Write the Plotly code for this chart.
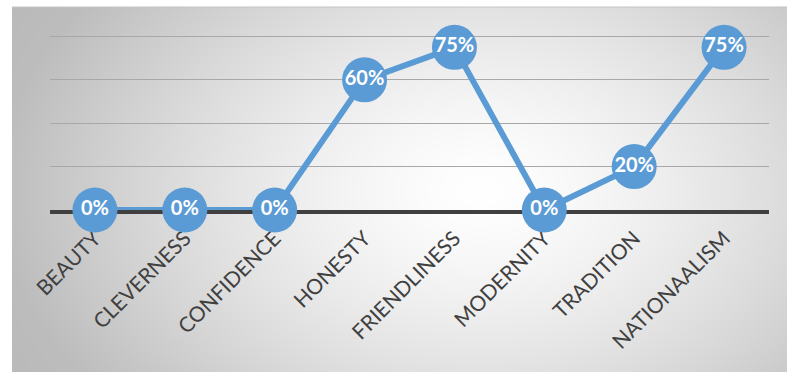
import base64
import struct
import zlib

import numpy as np
import plotly.graph_objects as go

# Survey traits and the share of respondents choosing each one (%)
traits = ["BEAUTY", "CLEVERNESS", "CONFIDENCE", "HONESTY",
          "FRIENDLINESS", "MODERNITY", "TRADITION", "NATIONAALISM"]
shares = [0, 0, 0, 60, 75, 0, 20, 75]
grid_ticks = [0, 20, 40, 60, 80]

W, H = 787, 372
BLUE = "#5B9BD5"


def gradient_png(w, h, cx, cy, rx, ry):
    """Radial white-to-grey gradient encoded as a PNG data URI."""
    yy, xx = np.mgrid[0:h, 0:w].astype(float)
    t = np.sqrt(((xx - cx) / rx) ** 2 + ((yy - cy) / ry) ** 2)
    v = 255 - 66 * np.clip(t, 0, 1) ** 1.4 - 25 * np.clip(t - 1, 0, None)
    img = np.repeat(v[:, :, None], 3, axis=2).astype(np.uint8)
    raw = b"".join(b"\x00" + row.tobytes() for row in img)

    def chunk(tag, data):
        c = struct.pack(">I", len(data)) + tag + data
        return c + struct.pack(">I", zlib.crc32(tag + data) & 0xFFFFFFFF)

    png = b"\x89PNG\r\n\x1a\n"
    png += chunk(b"IHDR", struct.pack(">IIBBBBB", w, h, 8, 2, 0, 0, 0))
    png += chunk(b"IDAT", zlib.compress(raw, 9))
    png += chunk(b"IEND", b"")
    return "data:image/png;base64," + base64.b64encode(png).decode()


# background panel geometry (pixels)
bx0, by0, bx1, by1 = 12, 7, 787, 372
bg = gradient_png(bx1 - bx0, by1 - by0, 480 - bx0, 190 - by0, 480, 330)

# plot area in pixels; the value axis runs a little past the top gridline
px0, px1 = 50, 769
py_zero = 210
px_per_unit = (210 - 36.5) / 80
y_max = 82
py_top = py_zero - y_max * px_per_unit

fig = go.Figure()
fig.add_trace(go.Scatter(
    x=traits,
    y=shares,
    mode="lines+markers+text",
    line=dict(color=BLUE, width=6),
    marker=dict(color=BLUE, size=45, line=dict(width=0)),
    text=[f"{v}%" for v in shares],
    textposition="middle center",
    textfont=dict(family="Lato", size=20, color="white", weight="bold"),
    cliponaxis=False,
    hoverinfo="skip",
))

fig.update_layout(
    width=W,
    height=H,
    margin=dict(l=0, r=0, t=0, b=0, autoexpand=False),
    paper_bgcolor="white",
    plot_bgcolor="rgba(0,0,0,0)",
    showlegend=False,
    images=[dict(
        source=bg, xref="paper", yref="paper",
        x=bx0 / W, y=1 - by0 / H,
        sizex=(bx1 - bx0) / W, sizey=(by1 - by0) / H,
        xanchor="left", yanchor="top", sizing="stretch", layer="below",
    )],
    shapes=[dict(
        type="line", xref="paper", yref="paper",
        x0=bx0 / W, x1=1, y0=1 - by0 / H, y1=1 - by0 / H,
        line=dict(color="#c4c4c4", width=1),
    )],
    xaxis=dict(
        domain=[px0 / W, px1 / W],
        range=[-0.5, len(traits) - 0.5],
        automargin=False,
        showgrid=False,
        showline=True,
        linecolor="#404040",
        linewidth=3.5,
        layer="below traces",
        ticks="",
        tickangle=-45,
        tickfont=dict(family="Lato", size=21, color="#404040"),
        ticklabelstandoff=4,
        fixedrange=True,
    ),
    yaxis=dict(
        domain=[1 - py_zero / H, 1 - py_top / H],
        range=[0, y_max],
        automargin=False,
        tickvals=grid_ticks,
        showticklabels=False,
        showgrid=True,
        gridcolor="#a8a8a8",
        gridwidth=1.3,
        zeroline=False,
        layer="below traces",
        fixedrange=True,
    ),
)

fig.write_html("out.html")
